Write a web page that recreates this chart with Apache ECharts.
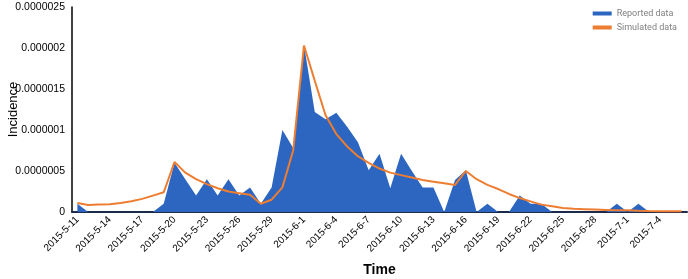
<!DOCTYPE html>
<html>
<head>
<meta charset="utf-8">
<script src="https://cdn.jsdelivr.net/npm/echarts@6/dist/echarts.min.js"></script>
<style>
  html, body { margin: 0; padding: 0; background: #fff; }
  #chart { width: 688px; height: 279px; }
</style>
</head>
<body>
<div id="chart"></div>
<script>
// 日期 2015-5-11 ~ 2015-7-6
const dates = []
for (let i = 0; i < 57; i++) {
  const d = new Date(2015, 4, 11 + i)
  dates.push('2015-' + (d.getMonth() + 1) + '-' + d.getDate())
}

// 单位 1e-7
const reported = [
  1, 0, 0, 0, 0, 0, 0, 0, 1, 6,
  4, 2, 4, 2, 4, 2, 3, 1, 3, 10,
  7.8, 20.4, 12.2, 11.3, 12.1, 10.4, 8.5, 5.1, 7.1, 2.9,
  7.1, 5, 3, 3, 0, 3.9, 5.1, 0, 1, 0,
  0, 2, 1, 1, 0, 0, 0, 0, 0, 0,
  1, 0, 1, 0, 0, 0, 0
]
const simulated = [
  1.1, 0.85, 0.9, 0.95, 1.1, 1.3, 1.6, 2.0, 2.4, 6.1,
  4.8, 4.0, 3.4, 2.9, 2.5, 2.3, 2.1, 1.0, 1.5, 3.0,
  7.5, 20.3, 16, 11.8, 9.5, 8.0, 6.8, 6.0, 5.3, 4.8,
  4.5, 4.2, 3.9, 3.7, 3.5, 3.3, 5.0, 4.0, 3.3, 2.8,
  2.2, 1.7, 1.3, 0.9, 0.7, 0.5, 0.4, 0.35, 0.3, 0.25,
  0.2, 0.2, 0.15, 0.12, 0.1, 0.1, 0.08
]

const scale = 1e-7
const myChart = echarts.init(document.getElementById('chart'))

const option = {
  backgroundColor: '#fff',
  animation: false,
  textStyle: { fontFamily: '"Liberation Sans", Arial, sans-serif' },
  legend: {
    orient: 'vertical',
    right: 6,
    top: 4,
    itemWidth: 19,
    itemHeight: 4,
    itemGap: 5,
    textStyle: { color: '#808080', fontSize: 9, fontFamily: 'Roboto, sans-serif' },
    data: [
      { name: 'Reported data', icon: 'rect' },
      { name: 'Simulated data', icon: 'rect' }
    ]
  },
  grid: {
    left: 72,
    right: 1,
    top: 7,
    bottom: 67,
    outerBoundsMode: 'none'
  },
  xAxis: {
    type: 'category',
    boundaryGap: true,
    data: dates,
    name: 'Time',
    nameLocation: 'middle',
    nameGap: 51,
    nameMoveOverlap: false,
    nameTextStyle: { color: '#000', fontSize: 14, fontWeight: 'bold' },
    axisLine: { lineStyle: { color: '#1c2b4a', width: 2 } },
    axisTick: { show: false },
    axisLabel: {
      interval: 2,
      rotate: 45,
      color: '#000',
      fontSize: 10,
      margin: 6
    }
  },
  yAxis: {
    type: 'value',
    min: 0,
    max: 0.0000025,
    interval: 0.0000005,
    name: 'Incidence',
    nameLocation: 'middle',
    nameGap: 52,
    nameMoveOverlap: false,
    nameTextStyle: { color: '#000', fontSize: 13 },
    axisLine: { show: true, lineStyle: { color: '#000', width: 1.5 } },
    axisTick: { show: false },
    splitLine: { show: false }, // 不显示水平分割线
    axisLabel: {
      color: '#000',
      fontSize: 10.5,
      margin: 7,
      formatter: function (v) {
        if (v === 0) return '0'
        return v.toFixed(7).replace(/0+$/, '')
      }
    }
  },
  series: [
    {
      name: 'Reported data',
      type: 'line',
      symbol: 'none',
      lineStyle: { width: 0, color: '#2c66c1' },
      itemStyle: { color: '#2c66c1' },
      areaStyle: { color: '#2c66c1', opacity: 1 },
      data: reported.map(v => v * scale)
    },
    {
      name: 'Simulated data',
      type: 'line',
      symbol: 'none',
      lineStyle: { width: 2, color: '#ed7d31' },
      itemStyle: { color: '#ed7d31' },
      data: simulated.map(v => v * scale)
    }
  ]
}
myChart.setOption(option)
</script>
</body>
</html>
